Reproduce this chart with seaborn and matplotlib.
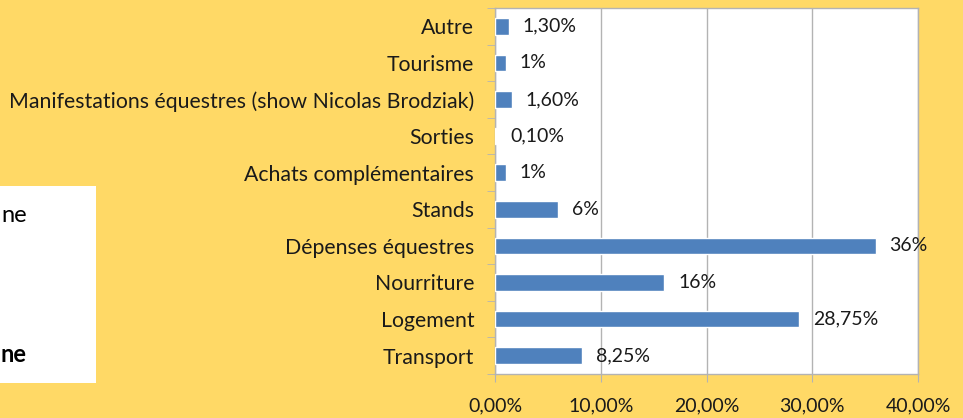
import pandas as pd
import matplotlib.pyplot as plt
import seaborn as sns
from matplotlib.ticker import FuncFormatter, MultipleLocator
from matplotlib.patches import Rectangle

# Data (top to bottom as displayed)
categories = ['Autre', 'Tourisme', 'Manifestations équestres (show Nicolas Brodziak)',
              'Sorties', 'Achats complémentaires', 'Stands', 'Dépenses équestres',
              'Nourriture', 'Logement', 'Transport']
values = [1.30, 1.0, 1.60, 0.10, 1.0, 6.0, 36.0, 16.0, 28.75, 8.25]
value_labels = ['1,30%', '1%', '1,60%', '0,10%', '1%', '6%', '36%', '16%', '28,75%', '8,25%']

df = pd.DataFrame({'categorie': categories, 'valeur': values, 'label': value_labels})

bg = '#FFD966'
bar_color = '#4F81BD'
grid_color = '#B3B3B3'
txt = '#1a1a1a'

sns.set_style('white')
plt.rcParams['font.family'] = ['Lato', 'DejaVu Sans']

fig = plt.figure(figsize=(9.63, 4.18), dpi=100)
fig.patch.set_facecolor(bg)
ax = fig.add_axes([495 / 963, 1 - 374 / 418, (918 - 495) / 963, (374 - 8) / 418])

sns.barplot(data=df, x='valeur', y='categorie', color=bar_color, width=0.45,
            saturation=1, ax=ax, zorder=3)

ax.set_xlim(0, 40)
ax.xaxis.set_major_locator(MultipleLocator(10))
ax.xaxis.set_major_formatter(FuncFormatter(lambda v, p: f'{v:.2f}%'.replace('.', ',')))
ax.set_xlabel('')
ax.set_ylabel('')
ax.set_facecolor('white')
ax.grid(axis='x', color=grid_color, linewidth=1, zorder=0)
for s in ax.spines.values():
    s.set_color(grid_color)
    s.set_linewidth(1)

# category ticks between bars, like the original
ax.set_yticks(range(len(categories)))
ax.set_yticks([i - 0.5 for i in range(len(categories) + 1)], minor=True)
ax.tick_params(axis='y', which='major', length=0, pad=15, labelsize=15.3, labelcolor=txt)
ax.tick_params(axis='y', which='minor', length=6, color=grid_color, left=True)
ax.tick_params(axis='x', which='major', length=6, color=grid_color, bottom=True,
               labelsize=14, labelcolor=txt, pad=11)

for i, (v, lab) in enumerate(zip(values, value_labels)):
    ax.annotate(lab, (v, i), xytext=(10, 0), textcoords='offset points',
                ha='left', va='center', fontsize=14, color=txt, zorder=4)

# white text box on the left
fig.patches.append(Rectangle((0, 1 - 383 / 418), 96 / 963, (383 - 186) / 418,
                             transform=fig.transFigure, facecolor='white',
                             edgecolor='none', zorder=1))
fig.text(1 / 963, 1 - 216 / 418, 'ne', fontsize=17, ha='left', va='center', color='black')
fig.text(1 / 963, 1 - 354 / 418, 'ne', fontsize=17, ha='left', va='center',
         color='black', fontweight='bold')

fig.savefig('out.png', dpi=100, facecolor=bg)
